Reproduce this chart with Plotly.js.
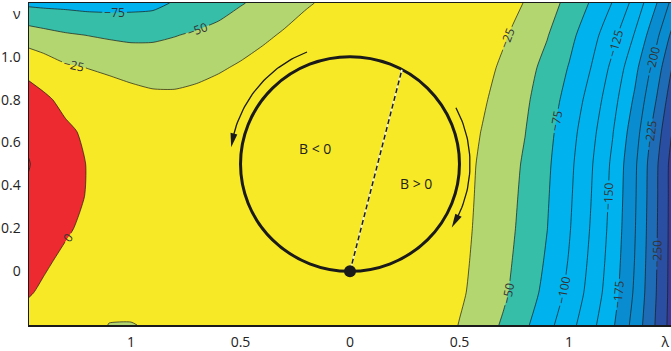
<!DOCTYPE html>
<html>
<head>
<meta charset="utf-8">
<script src="https://cdn.plot.ly/plotly-3.0.1.min.js"></script>
<style>
  html, body { margin: 0; padding: 0; background: #fff; }
  #chart { width: 671px; height: 351px; }
</style>
</head>
<body>
<div id="chart"></div>
<script>
var lambdaGrid = [-1.5, -1.4, -1.3, -1.2, -1.1, -1.0, -0.9, -0.8, -0.7, -0.6, -0.5, -0.4, -0.3, -0.2, -0.1, 0,
                  0.1, 0.2, 0.3, 0.4, 0.5, 0.6, 0.7, 0.8, 0.9, 1.0, 1.1, 1.2, 1.3, 1.4, 1.5];
var nuGrid = [-0.25, -0.1, 0.05, 0.2, 0.35, 0.5, 0.65, 0.8, 0.95, 1.1, 1.25];

var fieldRows = [
  [-10, -10, -10, -10, -26, -26.5, -21, -10, -10, -10, -10, -10, -10, -10, -10, -10,
   -10, -10, -10, -12.9, -25.9, -38.9, -52.8, -71, -92.1, -115.9, -142.4, -171.9, -209, -253.3, -299],
  [5.5, -4.5, -10, -10, -10, -10, -10, -10, -10, -10, -10, -10, -10, -10, -10, -10,
   -10, -10, -10, -10, -21.2, -33.7, -46.2, -62.8, -82.5, -106.2, -134, -164.9, -203.2, -250.6, -298.8],
  [14.5, 4.5, -5.5, -10, -10, -10, -10, -10, -10, -10, -10, -10, -10, -10, -10, -10,
   -10, -10, -10, -10, -19.3, -31.6, -43.8, -59.1, -78, -101.3, -129.8, -161.4, -200.3, -249.2, -298.9],
  [23.8, 13.8, 3.8, -6.2, -10, -10, -10, -10, -10, -10, -10, -10, -10, -10, -10, -10,
   -10, -10, -10, -10, -17.9, -30, -42.1, -56.3, -74.6, -97.9, -126.6, -158.7, -198.2, -248.1, -298.9],
  [24, 17, 8.5, -1.2, -10, -10, -10, -10, -10, -10, -10, -10, -10, -10, -10, -10,
   -10, -10, -10, -10, -16.9, -28.9, -41, -54.5, -72.8, -95.7, -124.3, -156.7, -196.7, -247.3, -298.9],
  [29, 19, 9, -0.7, -10, -10, -10, -10, -10, -10, -10, -10, -10, -10, -10, -10,
   -10, -10, -10, -10, -16, -27.9, -39.8, -52.7, -70.9, -93.5, -122.1, -154.7, -195.2, -246.5, -298.9],
  [23, 15, 4, -3.5, -10, -10, -10, -10, -10, -10, -10, -10, -10, -10, -10, -10,
   -10, -10, -10, -10, -13.3, -25.4, -37.5, -49.6, -67.8, -89.5, -116.9, -149, -188.4, -238.3, -290.4],
  [12, 4, -5.5, -10, -10, -15, -19.5, -20.1, -17.6, -13.2, -10, -10, -10, -10, -10, -10,
   -10, -10, -10, -10, -10, -21.4, -33.8, -46.2, -62.9, -83.4, -109.2, -141, -178.5, -225.9, -279.8],
  [-4, -12, -21.7, -25.5, -30.1, -34.5, -36, -35.3, -32.4, -27.9, -22.1, -15, -10, -10, -10, -10,
   -10, -10, -10, -10, -10, -16.4, -29.1, -41.9, -56.9, -76.2, -100, -131.1, -167.6, -212.3, -265.8],
  [-35, -41.7, -47.2, -50.3, -53.1, -54.7, -54, -50.8, -47.1, -42.6, -36.8, -30, -22, -13, -10, -10,
   -10, -10, -10, -10, -10, -10, -22.1, -35.4, -48.7, -67.7, -89.9, -117.5, -151.7, -194.4, -245.3],
  [-79.2, -81.3, -82.1, -84.1, -84.1, -83.1, -81.4, -73, -65, -59.4, -51.5, -45, -37, -28, -20, -12,
   -10, -10, -10, -10, -10, -10, -12.4, -26.4, -40.4, -56.5, -77.1, -101.1, -132.8, -174.2, -219.3]
];

var levelStart = -275, levelEnd = 25, levelStep = 25;

var xTickVals = [-1, -0.5, 0, 0.5, 1, 1.44];
var xTickText = ["1", "0.5", "0", "0.5", "1", "λ"];
var yTickVals = [0, 0.2, 0.4, 0.6, 0.8, 1.0, 1.2];
var yTickText = ["0", "0.2", "0.4", "0.6", "0.8", "1.0", "ν"];

// the loop drawn over the map
var loopCenter = [0, 0.5];
var loopRadius = 0.5;
var loopBase = [0, 0];
var chordEnd = [0.237, 0.939];
var regionText = ["B < 0", "B > 0"];
var regionX = [-0.16, 0.30];
var regionY = [0.57, 0.41];
var leftArcDeg = [111, 172];
var rightArcDeg = [28, -32];

// one colour per band, lowest band first
var bandColors = ["#3a3b97", "#2a4ea2", "#1f6cb6", "#0a8dd0", "#0a8dd0", "#00b3ef", "#00b3ef",
                  "#00b3ef", "#00b3ef", "#36bea8", "#b4d670", "#f8e927", "#ec2a2f", "#ec2a2f"];

var xRange = [-1.466, 1.466], yRange = [-0.25, 1.25];
var plotW = 642, plotH = 322;
var sx = plotW / (xRange[1] - xRange[0]);
var sy = plotH / (yRange[1] - yRange[0]);

var nb = bandColors.length - 1;
var scale = [];
bandColors.forEach(function(c, k) {
  scale.push([Math.max(0, (k - 0.5) / nb), c]);
  scale.push([Math.min(1, (k + 0.5) / nb), c]);
});

var field = {
  type: "contour",
  x: lambdaGrid,
  y: nuGrid,
  z: fieldRows,
  autocontour: false,
  contours: {
    start: levelStart, end: levelEnd, size: levelStep,
    coloring: "fill",
    showlabels: true,
    labelfont: {family: "Open Sans, sans-serif", size: 12, color: "#333"}
  },
  line: {color: "#1a1a1a", width: 0.7, smoothing: 0.6},
  colorscale: scale,
  showscale: false,
  hoverinfo: "skip"
};

// arrows around the loop (radius in pixels)
var arrowR = 120;
function arcPt(deg, r) {
  var t = deg * Math.PI / 180;
  return [loopCenter[0] + r * Math.cos(t) / sx, loopCenter[1] + r * Math.sin(t) / sy];
}
function arcTrace(a) {
  var dir = a[1] > a[0] ? 1 : -1;
  var stop = a[1] - dir * (11 / arrowR) * 180 / Math.PI;
  var xs = [], ys = [];
  for (var i = 0; i <= 40; i++) {
    var p = arcPt(a[0] + (stop - a[0]) * i / 40, arrowR);
    xs.push(p[0]); ys.push(p[1]);
  }
  return {type: "scatter", mode: "lines", x: xs, y: ys,
          line: {color: "#1a1a1a", width: 1.3}, hoverinfo: "skip"};
}
function arrowHead(a) {
  var dir = a[1] > a[0] ? 1 : -1;
  var tip = arcPt(a[1], arrowR);
  var backDeg = a[1] - dir * (14 / arrowR) * 180 / Math.PI;
  var b1 = arcPt(backDeg, arrowR - 3.5);
  var b2 = arcPt(backDeg, arrowR + 3.5);
  return {type: "path", xref: "x", yref: "y",
          path: "M" + tip[0] + "," + tip[1] + " L" + b1[0] + "," + b1[1] + " L" + b2[0] + "," + b2[1] + " Z",
          fillcolor: "#1a1a1a", line: {width: 0}};
}

var shapes = [
  {type: "circle", xref: "x", yref: "y",
   x0: loopCenter[0] - loopRadius, x1: loopCenter[0] + loopRadius,
   y0: loopCenter[1] - loopRadius, y1: loopCenter[1] + loopRadius,
   line: {color: "#1a1a1a", width: 3}},
  {type: "line", xref: "x", yref: "y", x0: loopBase[0], y0: loopBase[1], x1: chordEnd[0], y1: chordEnd[1],
   line: {color: "#ffffff", width: 1.5}},
  {type: "line", xref: "x", yref: "y", x0: loopBase[0], y0: loopBase[1], x1: chordEnd[0], y1: chordEnd[1],
   line: {color: "#1a1a1a", width: 1.5, dash: "5px,3px"}},
  {type: "circle", xref: "x", yref: "y", xsizemode: "pixel", ysizemode: "pixel",
   xanchor: loopBase[0], yanchor: loopBase[1], x0: -6, x1: 6, y0: -6, y1: 6,
   fillcolor: "#1a1a1a", line: {width: 0}},
  arrowHead(leftArcDeg),
  arrowHead(rightArcDeg)
];

var annotations = regionText.map(function(t, i) {
  return {x: regionX[i], y: regionY[i], xref: "x", yref: "y", text: t, showarrow: false,
          font: {family: "Open Sans, sans-serif", size: 14, color: "#222"}};
});

var layout = {
  width: 671, height: 351,
  margin: {l: 29, r: 0, t: 3, b: 26, pad: 0},
  paper_bgcolor: "#ffffff", plot_bgcolor: "#ffffff",
  font: {family: "Open Sans, sans-serif", size: 14, color: "#222"},
  showlegend: false,
  hovermode: false,
  xaxis: {range: xRange, tickvals: xTickVals, ticktext: xTickText, ticks: "",
          showgrid: false, zeroline: false, showline: true, linecolor: "#1a1a1a", linewidth: 1.5,
          mirror: true, ticklabelstandoff: 4},
  yaxis: {range: yRange, tickvals: yTickVals, ticktext: yTickText, ticks: "",
          showgrid: false, zeroline: false, showline: true, linecolor: "#1a1a1a", linewidth: 1.5,
          ticklabelstandoff: 4},
  shapes: shapes,
  annotations: annotations
};

Plotly.newPlot("chart", [field, arcTrace(leftArcDeg), arcTrace(rightArcDeg)], layout,
               {staticPlot: true, displayModeBar: false});
</script>
</body>
</html>
